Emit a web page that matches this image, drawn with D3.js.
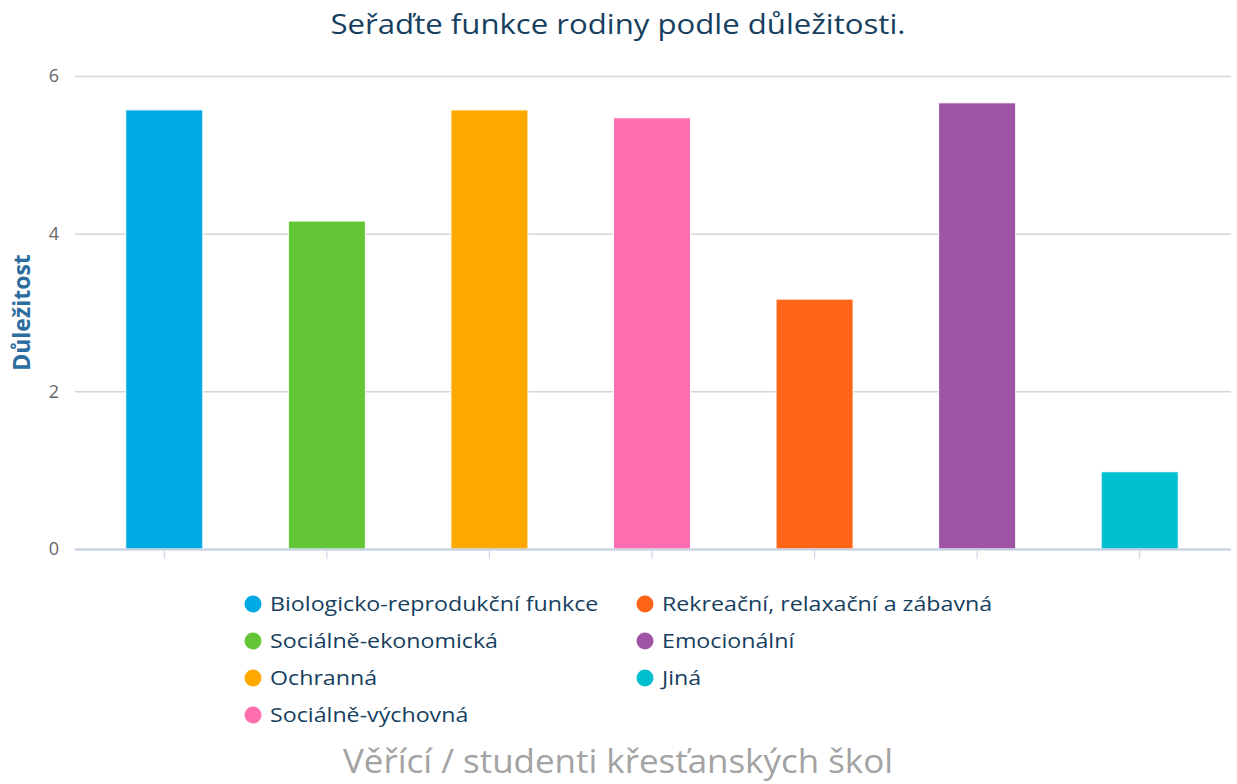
<!DOCTYPE html>
<html>
<head>
<meta charset="utf-8">
<script src="https://cdn.jsdelivr.net/npm/d3@7"></script>
<style>
  html, body { margin: 0; padding: 0; background: #fff; }
  svg { display: block; }
</style>
</head>
<body>
<div id="chart"></div>
<script>
const categories = [
  "Biologicko-reprodukční funkce",
  "Sociálně-ekonomická",
  "Ochranná",
  "Sociálně-výchovná",
  "Rekreační, relaxační a zábavná",
  "Emocionální",
  "Jiná"
];
const values = [5.57, 4.16, 5.57, 5.47, 3.17, 5.66, 0.98];
const colors = ["#00a9e2", "#63c637", "#ffa900", "#ff6eaf", "#ff6418", "#9e55a5", "#00bfd1"];
const yTicks = [0, 2, 4, 6];

const width = 1237;
const height = 784;
const marginTop = 76;
const marginBottom = 235;
const marginLeft = 83;
const marginRight = 16;

const svg = d3.select("#chart").append("svg")
  .attr("width", width)
  .attr("height", height)
  .attr("viewBox", [0, 0, width, height]);

const x = d3.scaleBand()
  .domain(categories)
  .range([marginLeft, width - marginRight])
  .paddingInner(0.526)
  .paddingOuter(0.263);

const y = d3.scaleLinear()
  .domain([0, 6])
  .range([height - marginBottom, marginTop]);

// title, stretched a bit wider like the original
svg.append("text")
  .attr("x", 618)
  .attr("y", 34)
  .attr("text-anchor", "middle")
  .attr("fill", "#163f5f")
  .attr("textLength", 575)
  .attr("lengthAdjust", "spacingAndGlyphs")
  .style("font", "27px 'Open Sans', sans-serif")
  .text("Seřaďte funkce rodiny podle důležitosti.");

// y axis with gridlines
svg.append("g")
  .attr("transform", `translate(${marginLeft},0)`)
  .call(d3.axisLeft(y).tickValues(yTicks).tickSize(0).tickPadding(24).tickFormat(d3.format("d")))
  .call(g => g.select(".domain").remove())
  .call(g => g.selectAll(".tick line").clone()
      .attr("x1", -8)
      .attr("x2", width - marginLeft - 6)
      .attr("stroke", "#d6d6d6")
      .attr("stroke-width", 1.5))
  .call(g => g.selectAll(".tick text")
      .attr("fill", "#666")
      .style("font", "18px 'Open Sans', sans-serif"));

svg.append("text")
  .attr("transform", `translate(30,${(y(0) + y(6)) / 2}) rotate(-90)`)
  .attr("text-anchor", "middle")
  .attr("fill", "#2c6da0")
  .style("font", "bold 23px 'Open Sans', sans-serif")
  .text("Důležitost");

// bars
svg.append("g")
  .selectAll("rect")
  .data(values)
  .join("rect")
  .attr("x", (d, i) => x(categories[i]))
  .attr("y", d => y(d))
  .attr("width", x.bandwidth())
  .attr("height", d => y(0) - y(d))
  .attr("fill", (d, i) => colors[i])
  .attr("stroke", "#fff")
  .attr("stroke-width", 1);

// x axis
svg.append("g")
  .attr("transform", `translate(0,${y(0)})`)
  .call(d3.axisBottom(x).tickSize(10).tickFormat(""))
  .call(g => g.select(".domain")
      .attr("d", `M${marginLeft - 8},0.5H${width - 6}`)
      .attr("stroke", "#c4d0e2")
      .attr("stroke-width", 2))
  .call(g => g.selectAll(".tick line").attr("stroke", "#c4d0e2").attr("y1", 2));

// legend: two columns, filled column-first
const legend = svg.append("g");
const rows = 4;
const item = legend.selectAll("g")
  .data(categories)
  .join("g")
  .attr("transform", (d, i) => `translate(${i < rows ? 253 : 645},${604 + (i % rows) * 37})`);

item.append("circle")
  .attr("r", 8.5)
  .attr("fill", (d, i) => colors[i]);

item.append("text")
  .attr("x", 17)
  .attr("y", 7)
  .attr("fill", "#163f5f")
  .style("font", "20px 'Open Sans', sans-serif")
  .text(d => d)
  .each(function () {
    const w = this.getComputedTextLength();
    d3.select(this).attr("textLength", w * 1.16).attr("lengthAdjust", "spacingAndGlyphs");
  });

// subtitle at bottom
svg.append("text")
  .attr("x", 618)
  .attr("y", 773)
  .attr("text-anchor", "middle")
  .attr("fill", "#a3a3a3")
  .style("font", "32px 'Open Sans', sans-serif")
  .attr("textLength", 550)
  .attr("lengthAdjust", "spacingAndGlyphs")
  .text("Věřící / studenti křesťanských škol");
</script>
</body>
</html>
